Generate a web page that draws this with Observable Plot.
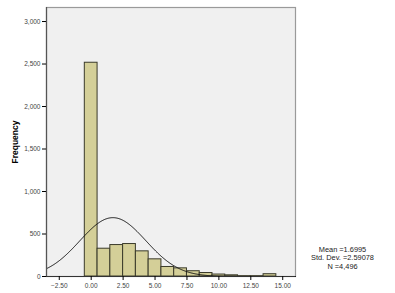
<!DOCTYPE html>
<html>
<head>
<meta charset="utf-8">
<script src="https://cdn.jsdelivr.net/npm/d3@7"></script>
<script src="https://cdn.jsdelivr.net/npm/@observablehq/plot@0.6"></script>
<style>
  html, body { margin: 0; padding: 0; background: #fff; }
  #chart svg { display: block; font-family: "Liberation Sans", Arial, sans-serif; }
  g[aria-label="y-axis label"] text { font-weight: bold; font-size: 8.5px; fill: #000; }
</style>
</head>
<body>
<div id="chart"></div>
<script>
// Histogram bins (center of each 1-unit bin) and frequencies
const binCenters = [0, 1, 2, 3, 4, 5, 6, 7, 8, 9, 10, 11, 12, 13, 14];
const counts     = [2515, 327, 370, 382, 296, 202, 112, 96, 62, 41, 23, 14, 4, 4, 27];
const binWidth = 1;

// Summary statistics shown beside the chart
const statMean = 1.6995;
const statSD = 2.59078;
const statN = 4496;
const statLines = ["Mean =1.6995", "Std. Dev. =2.59078", "N =4,496"];

// Axis ticks
const xTicks = [-2.5, 0, 2.5, 5, 7.5, 10, 12.5, 15];
const yTicks = [0, 500, 1000, 1500, 2000, 2500, 3000];
const xDomain = [-3.5, 16];
const yDomain = [0, 3165];

const bars = binCenters.map((c, i) => ({x1: c - binWidth / 2, x2: c + binWidth / 2, n: counts[i]}));

// Fitted normal curve from the displayed mean, SD and N (scaled to bin width)
const curve = d3.range(xDomain[0], xDomain[1] + 0.001, 0.05).map(x => ({
  x,
  y: statN * binWidth / (statSD * Math.sqrt(2 * Math.PI)) * Math.exp(-0.5 * ((x - statMean) / statSD) ** 2)
}));

const chart = Plot.plot({
  width: 395,
  height: 293,
  marginLeft: 46,
  marginRight: 100,
  marginTop: 7,
  marginBottom: 17,
  style: {fontFamily: "Liberation Sans, Arial, sans-serif", fontSize: "6.5px", background: "#fff"},
  x: {domain: xDomain},
  y: {domain: yDomain},
  marks: [
    Plot.frame({fill: "#f0f0f0", stroke: "#9a9a9a", strokeWidth: 1.2}),
    Plot.rectY(bars, {x1: "x1", x2: "x2", y: "n", fill: "#d4cf98", stroke: "#3a3a2a", strokeWidth: 1}),
    Plot.line(curve, {x: "x", y: "y", stroke: "#111", strokeWidth: 1}),
    Plot.ruleX([xDomain[0]], {stroke: "#555", strokeWidth: 1.2}),
    Plot.ruleY([0], {stroke: "#333", strokeWidth: 1.2}),
    Plot.axisY({ticks: yTicks, tickFormat: d3.format(","), tickSize: 4, tickPadding: 2, fill: "#444", fontSize: 6.5,
      label: "Frequency", labelAnchor: "center", labelArrow: "none", labelOffset: 35}),
    Plot.axisX({ticks: xTicks, tickFormat: d3.format(".2f"), tickSize: 4, tickPadding: 3, fill: "#444", fontSize: 6.5, label: null}),
    Plot.text([statLines.join("\n")], {frameAnchor: "bottom-right", dx: 47, dy: -8, textAnchor: "middle",
      lineAnchor: "bottom", lineHeight: 1.1, fontSize: 7.4, fill: "#222"})
  ]
});
document.getElementById("chart").appendChild(chart);
</script>
</body>
</html>
